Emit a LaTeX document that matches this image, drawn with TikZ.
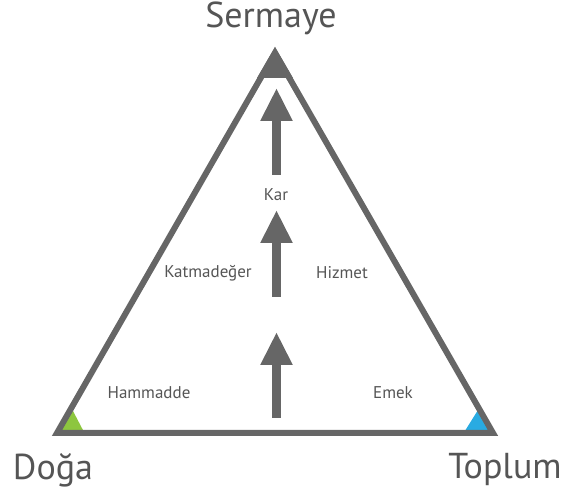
\documentclass[tikz,border=0pt]{standalone}
\usepackage{fontspec}
\setmainfont{PT Sans}
\usetikzlibrary{arrows.meta}
\definecolor{tgray}{HTML}{666666}
\definecolor{tgreen}{HTML}{8DC63F}
\definecolor{tblue}{HTML}{29ABE2}
\definecolor{ltext}{HTML}{555555}
\begin{document}
\begin{tikzpicture}[x=1pt,y=-1pt,
  big/.style={font=\fontsize{36}{36}\selectfont, text=ltext, inner sep=0pt},
  small/.style={font=\fontsize{17}{17}\selectfont, text=ltext, inner sep=0pt},
  uparrow/.style={draw=tgray, line width=9pt, -{Triangle[length=33pt,width=30pt]}}]
\useasboundingbox (0,0) rectangle (566,497);
% corner fills
\fill[tgreen] (54,434) -- (85,434) -- (73,411) -- cycle;
\fill[tblue] (463,434) -- (494,434) -- (478,410) -- cycle;
\fill[tgray] (275,47) -- (257,78) -- (293,78) -- cycle;
% outline
\draw[tgray, line width=6pt, line join=miter] (275,53) -- (57,433) -- (493,433) -- cycle;
% arrows
\coordinate (a1s) at (276.5,418); \coordinate (a1e) at (276.5,332);
\coordinate (a2s) at (276.5,297); \coordinate (a2e) at (276.5,210);
\coordinate (a3s) at (276.5,175); \coordinate (a3e) at (276.5,88);
\draw[uparrow] (a1s) -- (a1e);
\draw[uparrow] (a2s) -- (a2e);
\draw[uparrow] (a3s) -- (a3e);
% labels
\node[big] (sermaye) at (271,18) {Sermaye};
\node[big] (doga) at (53,470) {Doğa};
\node[big] (toplum) at (505,470) {Toplum};
\node[small] (kar) at (276,195) {Kar};
\node[small] (katma) at (208,273) {Katmadeğer};
\node[small] (hizmet) at (342,273) {Hizmet};
\node[small] (hammadde) at (149,393) {Hammadde};
\node[small] (emek) at (393,393) {Emek};
\end{tikzpicture}
\end{document}
